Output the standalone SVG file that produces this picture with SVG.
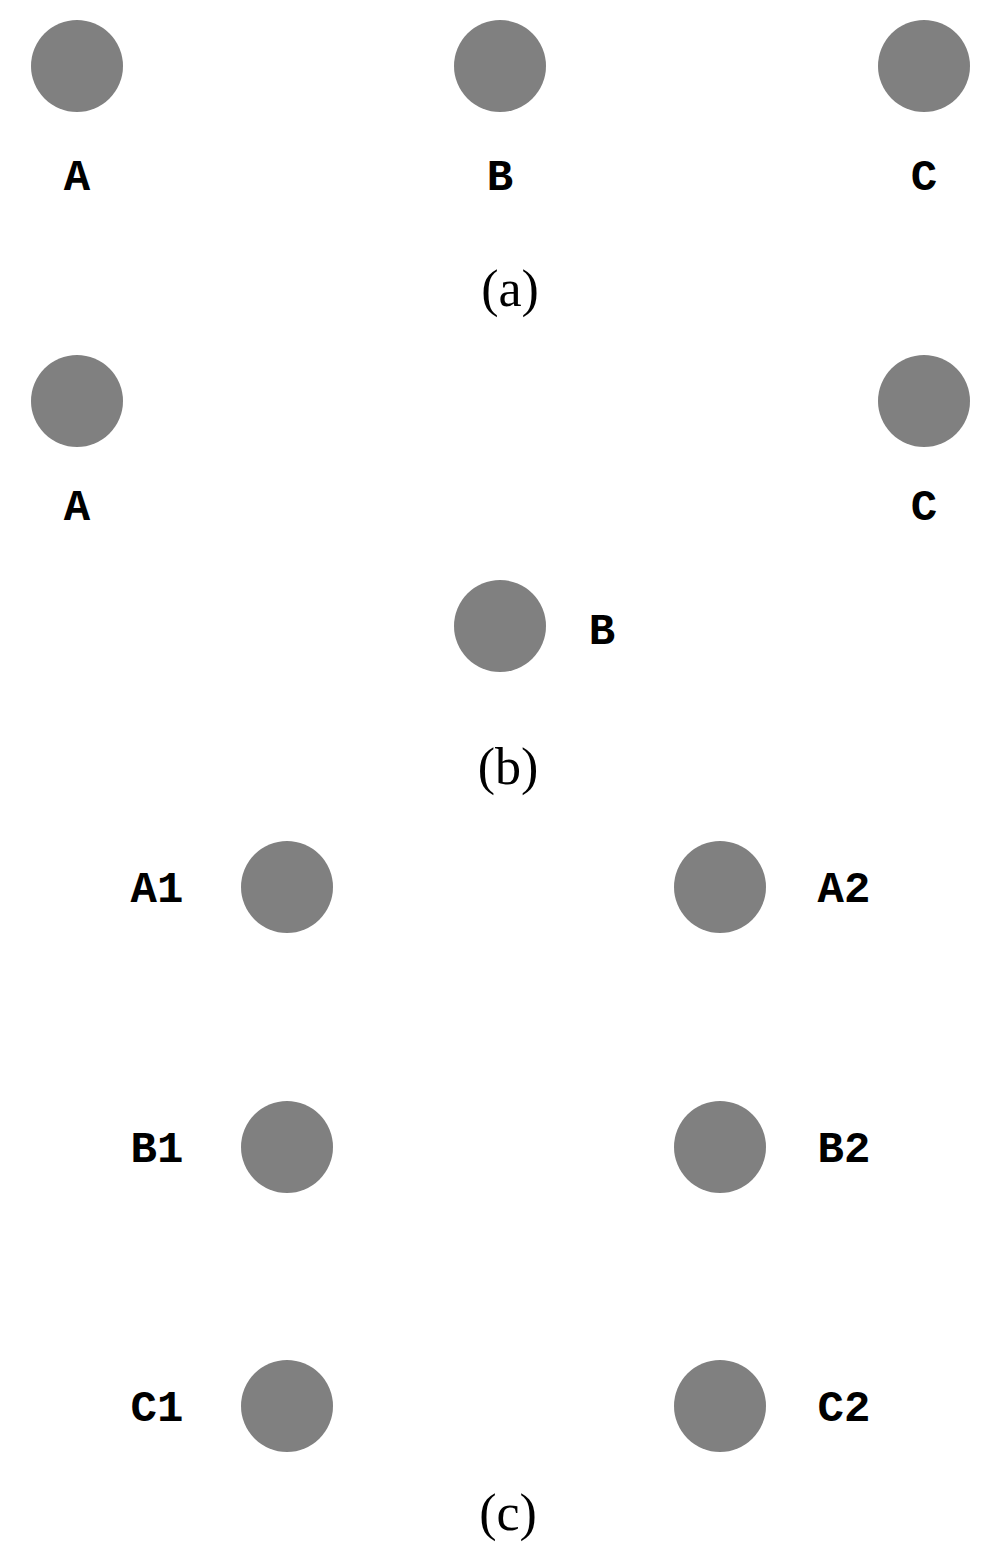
<svg xmlns="http://www.w3.org/2000/svg" width="1002" height="1562" viewBox="0 0 1002 1562">
<style>
.n{fill:#808080}
.l{font-family:"Liberation Mono","DejaVu Sans Mono",monospace;font-size:44px;text-anchor:middle;fill:#000;font-weight:bold;transform:scaleX(0.85)}
.c{font-family:"Liberation Serif",serif;font-size:52px;text-anchor:middle;fill:#000}
</style>
<rect width="1002" height="1562" fill="#fff"/>
<g id="a-A"><circle class="n" cx="77" cy="66" r="46"/><text class="l" x="77" y="190" font-family="Liberation Mono" style="transform:none">A</text></g>
<g id="a-B"><circle class="n" cx="500" cy="66" r="46"/><text class="l" x="500" y="190" style="transform:none">B</text></g>
<g id="a-C"><circle class="n" cx="924" cy="66" r="46"/><text class="l" x="924" y="190" style="transform:none">C</text></g>
<text class="c" x="510" y="306">(a)</text>
<g id="b-A"><circle class="n" cx="77" cy="401" r="46"/><text class="l" x="77" y="520" style="transform:none">A</text></g>
<g id="b-C"><circle class="n" cx="924" cy="401" r="46"/><text class="l" x="924" y="520" style="transform:none">C</text></g>
<g id="b-B"><circle class="n" cx="500" cy="626" r="46"/><text class="l" x="602" y="644" style="transform:none">B</text></g>
<text class="c" x="508" y="784">(b)</text>
<g id="A1"><circle class="n" cx="287" cy="887" r="46"/><text class="l" x="157" y="902" style="transform:none">A1</text></g>
<g id="A2"><circle class="n" cx="720" cy="887" r="46"/><text class="l" x="844" y="902" style="transform:none">A2</text></g>
<g id="B1"><circle class="n" cx="287" cy="1147" r="46"/><text class="l" x="157" y="1162" style="transform:none">B1</text></g>
<g id="B2"><circle class="n" cx="720" cy="1147" r="46"/><text class="l" x="844" y="1162" style="transform:none">B2</text></g>
<g id="C1"><circle class="n" cx="287" cy="1406" r="46"/><text class="l" x="157" y="1421" style="transform:none">C1</text></g>
<g id="C2"><circle class="n" cx="720" cy="1406" r="46"/><text class="l" x="844" y="1421" style="transform:none">C2</text></g>
<text class="c" x="508" y="1530">(c)</text>
<g id="connectors"/>
</svg>
